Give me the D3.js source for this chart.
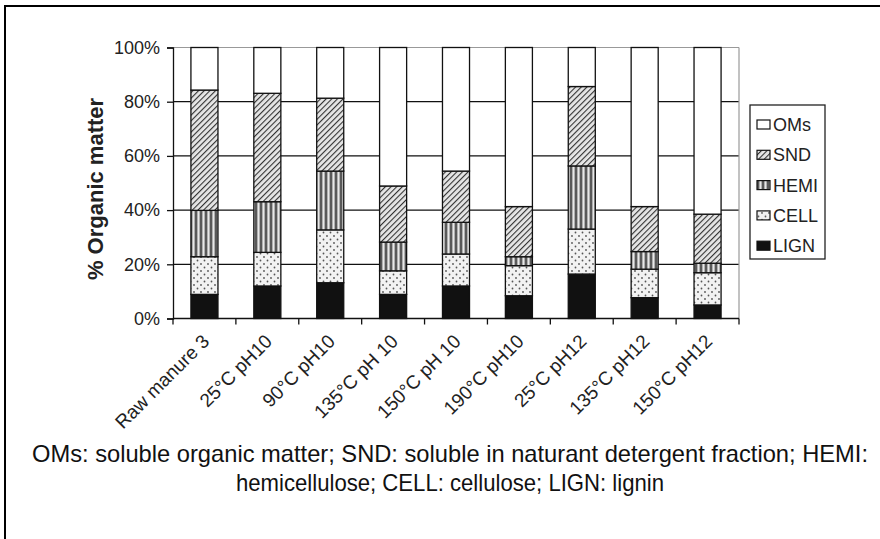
<!DOCTYPE html>
<html>
<head>
    <meta charset="utf-8">
    <title>Organic matter fractions</title>
    <script src="https://d3js.org/d3.v7.min.js"></script>
    <style>
        body, html {
            margin: 0;
            padding: 0;
            background: #fff;
        }
        svg text {
            font-family: "Liberation Sans", Arial, sans-serif;
        }
    </style>
</head>
<body>
    <div id="chart"></div>

    <script>
        // categories and stacked fractions (% of organic matter), bottom to top
        var categories = ["Raw manure 3", "25°C pH10", "90°C pH10", "135°C pH 10", "150°C pH 10",
                          "190°C pH10", "25°C pH12", "135°C pH12", "150°C pH12"];
        var LIGN = [8.9, 12.0, 13.2, 8.9, 12.0, 8.4, 16.4, 7.7, 5.0];
        var CELL = [13.9, 12.4, 19.5, 8.7, 11.8, 11.1, 16.6, 10.5, 11.9];
        var HEMI = [17.1, 18.7, 21.7, 10.6, 11.7, 3.3, 23.3, 6.5, 3.5];
        var SND  = [44.4, 40.0, 26.9, 20.7, 18.9, 18.5, 29.3, 16.6, 18.1];
        var OMs  = [15.7, 16.9, 18.7, 51.1, 45.6, 58.7, 14.4, 58.7, 61.5];
        var seriesNames = ["LIGN", "CELL", "HEMI", "SND", "OMs"];
        var legendOrder = ["OMs", "SND", "HEMI", "CELL", "LIGN"];
        var yTicks = [0, 20, 40, 60, 80, 100];
        var captionLines = [
            "OMs: soluble organic matter; SND: soluble in naturant detergent fraction; HEMI:",
            "hemicellulose; CELL: cellulose; LIGN: lignin"
        ];

        var W = 880, H = 539;
        var plotL = 173, plotR = 739, plotT = 47.5, plotB = 318.5;

        var svg = d3.select("#chart").append("svg")
            .attr("width", W)
            .attr("height", H);

        // patterns
        var defs = svg.append("defs");

        var pSnd = defs.append("pattern").attr("id", "pat-SND")
            .attr("patternUnits", "userSpaceOnUse").attr("width", 4).attr("height", 4)
            .attr("patternTransform", "rotate(45)");
        pSnd.append("rect").attr("width", 4).attr("height", 4).attr("fill", "#e6e6e6");
        pSnd.append("line").attr("x1", 0).attr("y1", 0).attr("x2", 0).attr("y2", 4)
            .attr("stroke", "#333").attr("stroke-width", 2.2);

        var pHemi = defs.append("pattern").attr("id", "pat-HEMI")
            .attr("patternUnits", "userSpaceOnUse").attr("width", 5).attr("height", 5);
        pHemi.append("rect").attr("width", 5).attr("height", 5).attr("fill", "#b0b0b0");
        pHemi.append("line").attr("x1", 1).attr("y1", 0).attr("x2", 1).attr("y2", 5)
            .attr("stroke", "#2a2a2a").attr("stroke-width", 1.3);
        pHemi.append("line").attr("x1", 3.5).attr("y1", 0).attr("x2", 3.5).attr("y2", 5)
            .attr("stroke", "#e8e8e8").attr("stroke-width", 1);

        var pCell = defs.append("pattern").attr("id", "pat-CELL")
            .attr("patternUnits", "userSpaceOnUse").attr("width", 7).attr("height", 7);
        pCell.append("rect").attr("width", 7).attr("height", 7).attr("fill", "#f2f2f2");
        pCell.append("circle").attr("cx", 1.5).attr("cy", 1.5).attr("r", 0.9).attr("fill", "#555");
        pCell.append("circle").attr("cx", 5).attr("cy", 5).attr("r", 0.9).attr("fill", "#555");

        var fills = {
            OMs: "#ffffff",
            SND: "url(#pat-SND)",
            HEMI: "url(#pat-HEMI)",
            CELL: "url(#pat-CELL)",
            LIGN: "#111111"
        };

        // outer frame (left and top edges only)
        svg.append("path")
            .attr("d", "M5," + H + "V6H" + W)
            .attr("fill", "none").attr("stroke", "#000").attr("stroke-width", 2);

        var x = d3.scaleBand()
            .domain(categories)
            .range([plotL, plotR])
            .paddingInner(0.57)
            .paddingOuter(0.285);

        var y = d3.scaleLinear()
            .domain([0, 100])
            .range([plotB, plotT]);

        // gridlines
        svg.append("g").selectAll("line")
            .data(yTicks.slice(1))
            .join("line")
            .attr("x1", plotL).attr("x2", plotR)
            .attr("y1", function(d) { return y(d); })
            .attr("y2", function(d) { return y(d); })
            .attr("stroke", function(d) { return d === 100 ? "#999" : "#111"; })
            .attr("stroke-width", 1.2);

        svg.append("line")
            .attr("x1", plotR).attr("x2", plotR).attr("y1", y(100)).attr("y2", y(0))
            .attr("stroke", "#999").attr("stroke-width", 1.2);

        // stacked bars
        var rows = categories.map(function(c, i) {
            return { cat: c, LIGN: LIGN[i], CELL: CELL[i], HEMI: HEMI[i], SND: SND[i], OMs: OMs[i] };
        });
        var stack = d3.stack().keys(seriesNames)(rows);

        svg.append("g").selectAll("g")
            .data(stack)
            .join("g")
            .attr("fill", function(s) { return fills[s.key]; })
            .selectAll("rect")
            .data(function(s) { return s; })
            .join("rect")
            .attr("x", function(d) { return x(d.data.cat); })
            .attr("width", x.bandwidth())
            .attr("y", function(d) { return y(d[1]); })
            .attr("height", function(d) { return y(d[0]) - y(d[1]); })
            .attr("stroke", "#111")
            .attr("stroke-width", 1.3);

        // y axis
        var yAxis = svg.append("g")
            .attr("transform", "translate(" + plotL + ",0)")
            .call(d3.axisLeft(y).tickValues(yTicks).tickSize(6).tickPadding(7)
                .tickFormat(function(d) { return d + "%"; }));
        yAxis.select(".domain").attr("stroke", "#111").attr("stroke-width", 1.3);
        yAxis.selectAll(".tick line").attr("stroke", "#111").attr("stroke-width", 1.3);
        yAxis.selectAll(".tick text")
            .attr("font-size", 18).attr("fill", "#222")
            .attr("font-family", "'Liberation Sans', Arial, sans-serif");

        // x axis with ticks between categories
        var xAxisG = svg.append("g");
        xAxisG.append("line")
            .attr("x1", plotL).attr("x2", plotR).attr("y1", plotB).attr("y2", plotB)
            .attr("stroke", "#111").attr("stroke-width", 1.3);
        var step = x.step();
        xAxisG.selectAll(".tk")
            .data(d3.range(categories.length + 1))
            .join("line")
            .attr("class", "tk")
            .attr("x1", function(i) { return plotL + i * step; })
            .attr("x2", function(i) { return plotL + i * step; })
            .attr("y1", plotB).attr("y2", plotB + 6)
            .attr("stroke", "#111").attr("stroke-width", 1.3);

        xAxisG.selectAll("text")
            .data(categories)
            .join("text")
            .attr("transform", function(d) {
                var cx = x(d) + x.bandwidth() / 2;
                return "translate(" + (cx + 6) + "," + (plotB + 24) + ") rotate(-45)";
            })
            .attr("text-anchor", "end")
            .attr("font-size", 19)
            .attr("fill", "#222")
            .text(function(d) { return d; });

        // y axis title
        svg.append("text")
            .attr("transform", "translate(103," + ((plotT + plotB) / 2 + 6) + ") rotate(-90)")
            .attr("text-anchor", "middle")
            .attr("font-size", 22)
            .attr("font-weight", "bold")
            .attr("fill", "#222")
            .text("% Organic matter");

        // legend
        var legend = svg.append("g").attr("transform", "translate(750,105)");
        legend.append("rect")
            .attr("width", 75).attr("height", 154)
            .attr("fill", "#fff").attr("stroke", "#222").attr("stroke-width", 1.3);
        var li = legend.selectAll("g.item")
            .data(legendOrder)
            .join("g")
            .attr("class", "item")
            .attr("transform", function(d, i) { return "translate(7," + (19 + i * 30.3) + ")"; });
        li.append("rect")
            .attr("x", 0).attr("y", -4).attr("width", 13).attr("height", 9)
            .attr("fill", function(d) { return fills[d]; })
            .attr("stroke", "#111").attr("stroke-width", 1.2);
        li.append("text")
            .attr("x", 16).attr("y", 7)
            .attr("font-size", 18)
            .attr("fill", "#222")
            .text(function(d) { return d; });

        // caption
        var cap = svg.append("g");
        cap.selectAll("text")
            .data(captionLines)
            .join("text")
            .attr("x", 450)
            .attr("y", function(d, i) { return 462 + i * 29; })
            .attr("text-anchor", "middle")
            .attr("font-size", 24)
            .attr("fill", "#111")
            .style("font-family", "'Liberation Sans Narrow', 'Arial Narrow', 'Liberation Sans', sans-serif")
            .attr("textLength", function(d, i) { return i === 0 ? 836 : 428; })
            .attr("lengthAdjust", "spacingAndGlyphs")
            .text(function(d) { return d; });
    </script>
</body>
</html>
